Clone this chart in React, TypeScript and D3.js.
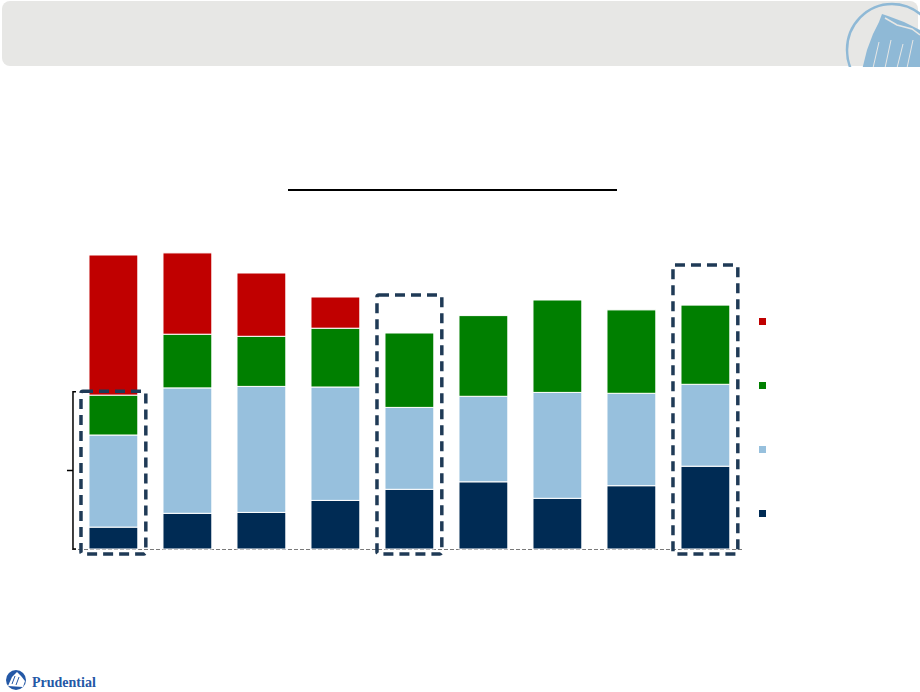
import { useEffect, useRef } from "react";
import * as d3 from "d3";

// bar categories (the slide shows no labels, so these are only keys)
const categories = ["p1", "p2", "p3", "p4", "p5", "p6", "p7", "p8", "p9"];

// stacked series, bottom to top
const navyValues = [7.3, 11.9, 12.2, 16.2, 19.9, 22.4, 16.9, 21.1, 27.6];
const lightBlueValues = [30.7, 41.8, 42.0, 37.8, 27.3, 28.5, 35.3, 30.8, 27.3];
const greenValues = [13.3, 17.9, 16.7, 19.6, 24.8, 26.9, 30.8, 27.8, 26.4];
const redValues = [46.7, 27.1, 21.1, 10.4, 0, 0, 0, 0, 0];

const seriesKeys = ["navy", "lightBlue", "green", "red"];
const seriesColors = ["#002b54", "#97c0dd", "#007f00", "#c00000"];

// highlighted bars and the top of their dashed frame
const highlightCategories = ["p1", "p5", "p9"];
const highlightTops = [52.6, 84.7, 94.7];

const bracketTop = 52.4;

const width = 920;
const height = 692;

const App = () => {
  const svgRef = useRef<SVGSVGElement | null>(null);

  useEffect(() => {
    if (!svgRef.current) {
      return;
    }

    const svg = d3.select(svgRef.current);
    svg.selectAll("*").remove();

    // header band
    svg
      .append("rect")
      .attr("x", 2)
      .attr("y", 1)
      .attr("width", 916)
      .attr("height", 65)
      .attr("rx", 8)
      .attr("fill", "#e7e7e5");

    // rock emblem, clipped by the header
    const clip = svg.append("defs").append("clipPath").attr("id", "header-clip");
    clip.append("rect").attr("x", 2).attr("y", 1).attr("width", 918).attr("height", 66);
    const rock = svg.append("g").attr("clip-path", "url(#header-clip)");
    rock
      .append("ellipse")
      .attr("cx", 892)
      .attr("cy", 50)
      .attr("rx", 45)
      .attr("ry", 46)
      .attr("fill", "none")
      .attr("stroke", "#8fb9d6")
      .attr("stroke-width", 2.5);
    rock
      .append("path")
      .attr(
        "d",
        "M862,70 L867,50 L873,34 L879,22 L882,14 L888,16 L896,19 L904,22 L912,26 L920,30 L920,70 Z",
      )
      .attr("fill", "#8fb9d6");
    rock
      .append("path")
      .attr("d", "M885,18 L897,25 L912,29 L920,35")
      .attr("fill", "none")
      .attr("stroke", "#e7e7e5")
      .attr("stroke-width", 1.5);
    [
      "M879,42 L873,68",
      "M891,40 L885,68",
      "M903,44 L897,68",
      "M913,40 L907,68",
    ].forEach((d) =>
      rock
        .append("path")
        .attr("d", d)
        .attr("fill", "none")
        .attr("stroke", "#e7e7e5")
        .attr("stroke-width", 1),
    );

    // title underline
    svg
      .append("line")
      .attr("x1", 288)
      .attr("x2", 617)
      .attr("y1", 190)
      .attr("y2", 190)
      .attr("stroke", "#000")
      .attr("stroke-width", 2);

    const xScale = d3
      .scaleBand()
      .domain(categories)
      .range([76.4, 742.4])
      .paddingInner(0.34)
      .paddingOuter(0.17);

    const yScale = d3.scaleLinear().domain([0, 100]).range([549, 249]);

    const table = categories.map((c, i) => ({
      category: c,
      navy: navyValues[i],
      lightBlue: lightBlueValues[i],
      green: greenValues[i],
      red: redValues[i],
    }));

    const stacked = d3.stack<(typeof table)[number]>().keys(seriesKeys)(table);

    // dashed baseline
    svg
      .append("line")
      .attr("x1", 72)
      .attr("x2", 743)
      .attr("y1", yScale(0) + 0.5)
      .attr("y2", yScale(0) + 0.5)
      .attr("stroke", "#7a7a7a")
      .attr("stroke-width", 1)
      .attr("stroke-dasharray", "4,2");

    const g = svg.append("g");
    stacked.forEach((layer, li) => {
      g.selectAll(`.bar-${li}`)
        .data(layer.filter((d) => d[1] - d[0] > 0))
        .enter()
        .append("rect")
        .attr("class", `bar-${li}`)
        .attr("x", (d) => xScale(d.data.category) as number)
        .attr("y", (d) => yScale(d[1]))
        .attr("width", xScale.bandwidth())
        .attr("height", (d) => yScale(d[0]) - yScale(d[1]))
        .attr("fill", seriesColors[li])
        .attr("stroke", "#fff")
        .attr("stroke-width", 1);
    });

    // dashed frames round the highlighted bars
    svg
      .selectAll(".frame")
      .data(highlightCategories)
      .enter()
      .append("rect")
      .attr("class", "frame")
      .attr("x", (d) => (xScale(d) as number) - 8)
      .attr("y", (_d, i) => yScale(highlightTops[i]))
      .attr("width", xScale.bandwidth() + 16)
      .attr("height", (_d, i) => yScale(0) - yScale(highlightTops[i]) + 5)
      .attr("rx", 2)
      .attr("fill", "none")
      .attr("stroke", "#1f3a56")
      .attr("stroke-width", 3.5)
      .attr("stroke-dasharray", "10,6");

    // brace at the left of the first bar
    const bx = (xScale(categories[0]) as number) - 16;
    const bTop = yScale(bracketTop);
    const bBottom = yScale(0);
    svg
      .append("path")
      .attr(
        "d",
        `M${bx + 3},${bTop} L${bx},${bTop} L${bx},${bBottom} L${bx + 3},${bBottom} M${bx},${(bTop + bBottom) / 2} L${bx - 6},${(bTop + bBottom) / 2}`,
      )
      .attr("fill", "none")
      .attr("stroke", "#000")
      .attr("stroke-width", 1.5);

    // legend swatches, top to bottom
    const legendOrder = [3, 2, 1, 0];
    svg
      .selectAll(".legend")
      .data(legendOrder)
      .enter()
      .append("rect")
      .attr("class", "legend")
      .attr("x", 759)
      .attr("y", (_d, i) => 318 + i * 64)
      .attr("width", 7)
      .attr("height", 7)
      .attr("fill", (d) => seriesColors[d]);

    // footer logo
    const logo = svg.append("g");
    logo.append("circle").attr("cx", 16).attr("cy", 680).attr("r", 10).attr("fill", "#2458a6");
    logo
      .append("path")
      .attr("d", "M8,686 L12,677 L17,672 L21,676 L25,681 L23,687 Z")
      .attr("fill", "#fff");
    logo
      .append("path")
      .attr("d", "M12,684 L15,676 M16,685 L19,677")
      .attr("stroke", "#2458a6")
      .attr("stroke-width", 1);
    logo
      .append("text")
      .attr("x", 32)
      .attr("y", 687)
      .attr("font-family", "Liberation Serif, serif")
      .attr("font-weight", "bold")
      .attr("font-size", "14px")
      .attr("fill", "#2458a6")
      .text("Prudential");
  }, []);

  return (
    <svg
      ref={svgRef}
      width={width}
      height={height}
      style={{ position: "absolute", left: 0, top: 0, background: "#fff" }}
    />
  );
};

export default App;
